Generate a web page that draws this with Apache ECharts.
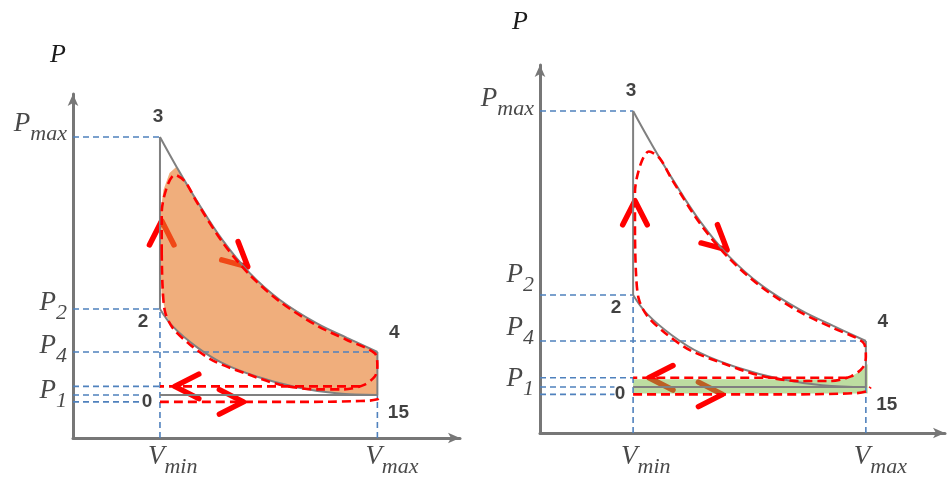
<!DOCTYPE html>
<html>
<head>
<meta charset="utf-8">
<style>
  html, body { margin: 0; padding: 0; background: #fff; }
  #main { width: 948px; height: 479px; }
</style>
<script src="https://cdn.jsdelivr.net/npm/echarts@6/dist/echarts.min.js"></script>
</head>
<body>
<div id="main"></div>
<script>
// volumes in units of Vmin, pressures in units of the 0-15 line
var volumes = [1.0, 3.5];                 // Vmin, Vmax
var volumeSubs = ['min', 'max'];
var pressureTicks = [7.0, 3.0, 2.0, 1.0]; // Pmax, P2, P4, P1 labels
var pressureSubs = ['max', '2', '4', '1'];

// cycle states
var stateNames = ['0', '15', '2', '3', '4'];
var stateV = [1.0, 3.5, 1.0, 1.0, 3.5];
var stateP = [1.0, 1.0, 3.0, 7.0, 2.0];

// blue guide lines: level and where they stop
var guideP = [7.0, 3.0, 2.0, 1.2, 1.0, 0.84];
var guideEnd = [1.0, 1.0, 3.5, 1.0, 0.8, 0.8];

// ideal expansion 3->4 and compression 15->2
var expV = [1.0, 1.19, 1.42, 1.72, 2.03, 2.38, 2.80, 3.15, 3.5];
var expP = [7.0, 6.31, 5.53, 4.60, 3.84, 3.21, 2.67, 2.33, 2.0];
var compV = [3.5, 3.03, 2.57, 2.11, 1.72, 1.42, 1.15, 1.0];
var compP = [1.0, 1.04, 1.18, 1.43, 1.74, 2.12, 2.59, 3.0];

// real indicator loop
var loopV = [1.02, 1.02, 1.08, 1.17, 1.29, 1.42, 1.72, 2.03, 2.38, 2.80, 3.15, 3.47, 3.50, 3.47, 3.34, 3.11, 2.80, 2.38, 2.00, 1.61, 1.34, 1.15, 1.06, 1.03, 1.02];
var loopP = [4.30, 5.23, 5.84, 6.12, 5.96, 5.50, 4.55, 3.80, 3.17, 2.62, 2.28, 1.97, 1.66, 1.43, 1.23, 1.13, 1.13, 1.24, 1.49, 1.80, 2.18, 2.55, 2.92, 3.52, 4.30];
var exhaustV = [3.3, 1.0];
var exhaustP = [1.2, 1.2];
var intakeV = [1.0, 2.6, 3.3, 3.5, 3.55];
var intakeP = [0.84, 0.84, 0.86, 0.9, 1.0];

// arrow heads: position and heading (deg)
var arrowV = [1.02, 2.01, 1.17, 1.96];
var arrowP = [5.05, 3.98, 1.2, 0.84];
var arrowDir = [90, -42, 180, 0];

// shaded areas
var workV = [1.01, 1.04, 1.11, 1.19, 1.42, 1.72, 2.03, 2.38, 2.80, 3.15, 3.50, 3.50, 3.03, 2.57, 2.11, 1.72, 1.42, 1.20, 1.08, 1.02, 1.0];
var workP = [5.30, 5.77, 6.16, 6.31, 5.53, 4.60, 3.84, 3.21, 2.67, 2.33, 2.00, 1.00, 1.04, 1.18, 1.43, 1.74, 2.10, 2.45, 2.80, 3.30, 4.30];
var pumpV = [1.0, 3.2, 3.37, 3.47, 3.52, 3.52, 1.0];
var pumpP = [1.17, 1.17, 1.26, 1.38, 1.50, 0.86, 0.86];

var panels = [
    { left: 73, top: 94, width: 387, height: 344, xMax: 4.45, areaV: workV, areaP: workP,
      areaColor: 'rgba(230,120,37,0.6)', pDy: [-3, 4, 4, 6], vDy: 29, nameGap: 26, namePad: 30 },
    { left: 540, top: 65, width: 405, height: 368, xMax: 4.35, areaV: pumpV, areaP: pumpP,
      areaColor: 'rgba(125,188,70,0.51)', pDy: [-2, -10, -3, 2], vDy: 34, nameGap: 30, namePad: 40 }
];
var stateOffsets = [[-13, 7], [21, 18], [-17, 13], [-2, -20], [17, -19]];

var blue = { color: '#4f81bd', width: 1.6, type: [6, 4] };
var gray = { color: '#808080', width: 2 };
var red = { color: '#ff0000', width: 2.6, type: [9, 5] };
var mathFont = { fontFamily: 'Liberation Serif', fontStyle: 'italic', color: '#1a1a1a' };

function pairs(xs, ys) {
    return xs.map(function (x, i) { return [x, ys[i]]; });
}

function line(k, data, style, smooth) {
    return {
        type: 'line', xAxisIndex: k, yAxisIndex: k, data: data, smooth: smooth || false,
        symbol: 'none', silent: true, lineStyle: style
    };
}

function arrowItem(params, api) {
    var tip = api.coord([api.value(0), api.value(1)]);
    var a = api.value(2) * Math.PI / 180;
    var len = 27, half = 27 * Math.PI / 180;
    function arm(sign) {
        var b = a + Math.PI + sign * half;
        return [tip[0] + len * Math.cos(b), tip[1] - len * Math.sin(b)];
    }
    return {
        type: 'polyline',
        shape: { points: [arm(1), tip, arm(-1)] },
        style: { stroke: '#ff0000', lineWidth: 5.5, fill: null, lineCap: 'round', lineJoin: 'round' }
    };
}

var grids = [], xAxes = [], yAxes = [], series = [];

panels.forEach(function (pn, k) {
    grids.push({ left: pn.left, top: pn.top, width: pn.width, height: pn.height });
    var axisLine = { show: true, symbol: ['none', 'arrow'], symbolSize: [8, 12], lineStyle: { color: '#777', width: 3 } };
    xAxes.push({ gridIndex: k, type: 'value', min: 0, max: pn.xMax, axisLine: axisLine,
        axisTick: { show: false }, axisLabel: { show: false }, splitLine: { show: false } });
    yAxes.push({ gridIndex: k, type: 'value', min: 0, max: 8, axisLine: axisLine,
        axisTick: { show: false }, axisLabel: { show: false }, splitLine: { show: false },
        name: 'P', nameLocation: 'end', nameGap: pn.nameGap,
        nameTextStyle: Object.assign({ fontSize: 26, padding: [0, pn.namePad, 0, 0] }, mathFont) });

    // guide lines
    guideP.forEach(function (p, i) {
        series.push(line(k, [[0, p], [guideEnd[i], p]], blue));
    });
    series.push(line(k, [[volumes[0], 0], [volumes[0], stateP[2]]], blue));
    series.push(line(k, [[volumes[1], 0], [volumes[1], stateP[1]]], blue));

    // ideal cycle
    series.push(line(k, [[stateV[0], stateP[0]], [stateV[1], stateP[1]], [stateV[4], stateP[4]]], gray));
    series.push(line(k, [[stateV[3], stateP[3]], [stateV[2], stateP[2]]], gray));
    series.push(line(k, pairs(expV, expP), gray, 0.4));
    series.push(line(k, pairs(compV, compP), gray, 0.4));

    // real cycle
    series.push(line(k, pairs(loopV, loopP), red, 0.3));
    series.push(line(k, pairs(exhaustV, exhaustP), red));
    series.push(line(k, pairs(intakeV, intakeP), red, 0.4));

    series.push({
        type: 'custom', xAxisIndex: k, yAxisIndex: k, silent: true,
        renderItem: arrowItem,
        encode: { x: 0, y: 1 },
        data: arrowV.map(function (v, i) { return [v, arrowP[i], arrowDir[i]]; })
    });

    // shaded area on top
    series.push({
        type: 'custom', xAxisIndex: k, yAxisIndex: k, silent: true,
        encode: { x: 0, y: 1 },
        data: [[pn.areaV[0], pn.areaP[0]]],
        renderItem: function (params, api) {
            var pts = pn.areaV.map(function (v, i) { return api.coord([v, pn.areaP[i]]); });
            return { type: 'polygon', shape: { points: pts }, style: { fill: pn.areaColor } };
        }
    });

    // state numbers
    series.push({
        type: 'scatter', xAxisIndex: k, yAxisIndex: k, symbolSize: 0, silent: true,
        data: stateNames.map(function (n, i) {
            return { name: n, value: [stateV[i], stateP[i]], label: { offset: stateOffsets[i] } };
        }),
        label: { show: true, position: 'inside', formatter: '{b}', fontFamily: 'Liberation Sans',
            fontWeight: 'bold', fontSize: 19, color: '#111' }
    });

    // P and V labels with subscripts
    var rich = {
        p: Object.assign({ fontSize: 27, lineHeight: 30, verticalAlign: 'top' }, mathFont),
        s: Object.assign({ fontSize: 22, lineHeight: 48 }, mathFont)
    };
    series.push({
        type: 'scatter', xAxisIndex: k, yAxisIndex: k, symbolSize: 0, silent: true,
        data: pressureTicks.map(function (p, i) {
            return { name: pressureSubs[i], value: [0, p], label: { offset: [-6, pn.pDy[i]] } };
        }),
        label: { show: true, position: 'inside', align: 'right', verticalAlign: 'middle',
            formatter: function (d) { return '{p|P}{s|' + d.name + '}'; }, rich: rich }
    });
    series.push({
        type: 'scatter', xAxisIndex: k, yAxisIndex: k, symbolSize: 0, silent: true,
        data: volumes.map(function (v, i) {
            return { name: volumeSubs[i], value: [v, 0] };
        }),
        label: { show: true, position: 'inside', align: 'left', verticalAlign: 'middle',
            offset: [-12, pn.vDy],
            formatter: function (d) { return '{p|V}{s|' + d.name + '}'; }, rich: rich }
    });
});

var myChart = echarts.init(document.getElementById('main'));
myChart.setOption({
    backgroundColor: '#ffffff',
    animation: false,
    grid: grids,
    xAxis: xAxes,
    yAxis: yAxes,
    series: series
});
</script>
</body>
</html>
